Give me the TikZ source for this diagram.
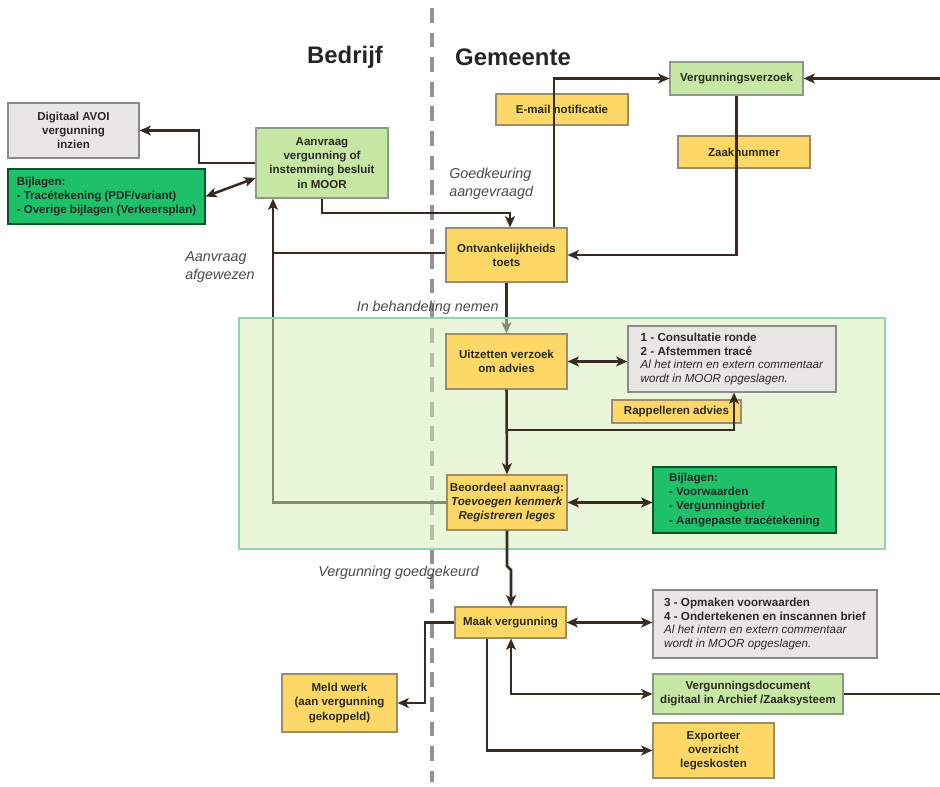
\documentclass[tikz,border=0pt]{standalone}
\usepackage{fontspec}
\setmainfont{Liberation Sans}
\usetikzlibrary{arrows.meta,calc}
\definecolor{yfill}{HTML}{FDD867}
\definecolor{ybdr}{HTML}{9C8C6A}
\definecolor{lgfill}{HTML}{C6E8A4}
\definecolor{lgbdr}{HTML}{8C9C84}
\definecolor{gfill}{HTML}{E8E7E6}
\definecolor{gbdr}{HTML}{8A8A8A}
\definecolor{dgin}{HTML}{1EC16A}
\definecolor{dgmid}{HTML}{129E4E}
\definecolor{dgout}{HTML}{0A6A32}
\definecolor{lin}{HTML}{3A2B22}
\definecolor{txt}{HTML}{2A2A22}
\definecolor{lbl}{HTML}{4A4A4A}
\definecolor{regfill}{HTML}{D3EDB5}
\definecolor{regbdr}{HTML}{8ED9A6}
\pgfdeclareradialshading{gsh}{\pgfpoint{0bp}{0bp}}{color(0bp)=(dgin); color(32bp)=(dgin); color(46bp)=(dgmid); color(52bp)=(dgout); color(75bp)=(dgout)}
\pgfdeclarelayer{bg}
\pgfdeclarelayer{mid}
\pgfsetlayers{bg,mid,main}
\tikzset{
  sz/.style 2 args={minimum width={#1*0.025cm}, minimum height={#2*0.025cm}},
  box/.style={rectangle, line width=0.8pt, inner sep=1pt, align=center, text=txt,
    font=\bfseries\fontsize{8.2}{10}\selectfont},
  ybox/.style={box, fill=yfill, draw=ybdr},
  lgbox/.style={box, fill=lgfill, draw=lgbdr},
  gbox/.style={box, fill=gfill, draw=gbdr, align=left, font=\fontsize{8.3}{9.8}\selectfont},
  dgbox/.style={box, shading=gsh, draw=dgout!80!black, align=left, text=black!85},
  conn/.style={draw=lin, line width=1.8pt},
  tip/.tip={Stealth[length=8pt,width=7pt,inset=2pt]},
  arr/.style={conn, -tip},
  dbl/.style={conn, tip-tip},
  lab/.style={text=lbl, font=\itshape\fontsize{10.2}{12.8}\selectfont, align=left, inner sep=0pt},
  title/.style={text=black!85, font=\bfseries\fontsize{17}{20}\selectfont, inner sep=0pt}
}
\begin{document}
\begin{tikzpicture}[x=0.025cm,y=-0.025cm]
\useasboundingbox (0,0) rectangle (940,787);
% titles
\node[title] (tb) at (345,57) {Bedrijf};
\node[title] (tg) at (513,57) {Gemeente};
% boxes
\node[gbox, sz={131}{55}, align=center, font=\bfseries\fontsize{8.2}{10}\selectfont] (digi) at (73.5,130.5) {Digitaal AVOI\\vergunning\\inzien};
\node[dgbox, sz={197}{55}] (bij1) at (106.5,196.5) {Bijlagen:\\- Trac\'etekening (PDF/variant)\\- Overige bijlagen (Verkeersplan)};
\node[lgbox, sz={132}{70}] (aanv) at (322,163) {Aanvraag\\vergunning of\\instemming besluit\\in MOOR};
\node[ybox, sz={121}{54}] (ontv) at (506.5,255) {Ontvankelijkheids\\toets};
\node[ybox, sz={132}{31}] (email) at (562,109.5) {E-mail notificatie};
\node[lgbox, sz={133}{33}] (vverz) at (736.5,78.5) {Vergunningsverzoek};
\node[ybox, sz={132}{32}] (zaak) at (744,152) {Zaaknummer};
\node[ybox, sz={121}{55}] (uitz) at (506.5,361.5) {Uitzetten verzoek\\om advies};
\node[gbox, sz={208}{66}] (gray1) at (732,359) {\textbf{1 - Consultatie ronde}\\\textbf{2 - Afstemmen trac\'e}\\\textit{Al het intern en extern commentaar}\\\textit{wordt in MOOR opgeslagen.}};
\node[ybox, sz={129}{23}] (rapp) at (676.5,411.5) {Rappelleren advies};
\node[ybox, sz={120}{55}] (beoo) at (507,502.5) {Beoordeel aanvraag:\\\textit{Toevoegen kenmerk}\\\textit{Registreren leges}};
\node[dgbox, sz={183}{66}] (bij2) at (744.5,500) {Bijlagen:\\- Voorwaarden\\- Vergunningbrief\\- Aangepaste trac\'etekening};
\node[ybox, sz={111}{31}] (maak) at (510.5,622.5) {Maak vergunning};
\node[ybox, sz={115}{58}] (meld) at (339.5,703) {Meld werk\\(aan vergunning\\gekoppeld)};
\node[gbox, sz={224}{68}] (gray2) at (765,624) {\textbf{3 - Opmaken voorwaarden}\\\textbf{4 - Ondertekenen en inscannen brief}\\\textit{Al het intern en extern commentaar}\\\textit{wordt in MOOR opgeslagen.}};
\node[lgbox, sz={190}{40}] (vdoc) at (748,694) {Vergunningsdocument\\digitaal in Archief /Zaaksysteem};
\node[ybox, sz={121}{55}] (expo) at (713.5,750.5) {Exporteer\\overzicht\\legeskosten};
% labels
\node[lab, anchor=west] (l1) at (449,184) {Goedkeuring\\aangevraagd};
\node[lab, anchor=west] (l2) at (185,267) {Aanvraag\\afgewezen};
\node[lab, anchor=east] (l3) at (499,308) {In behandeling nemen};
\node[lab, anchor=west] (l4) at (318,573) {Vergunning goedgekeurd};
\coordinate (rin) at (940,78.5);
\coordinate (rout) at (940,694);
% background layer: dashed divider and lines under the region
\begin{pgfonlayer}{bg}
\coordinate (dtop) at (432,8);
\coordinate (dbot) at (432,782);
\draw[gray!85, line width=2.6pt, dash pattern=on 10.5pt off 7pt] (dtop) -- (dbot);
\draw[arr] (beoo.west) -| (aanv.south -| 273,0);
\draw[conn] (ontv.west |- 0,253) -- (273,253);
\draw[arr] (ontv.south) -- (uitz.north);
\end{pgfonlayer}
\begin{pgfonlayer}{mid}
\fill[regfill, fill opacity=0.5] (239,318) rectangle (885,549);
\draw[regbdr, line width=0.8pt] (239,318) rectangle (885,549);
\end{pgfonlayer}
% connectors
\draw[arr] (aanv.west |- 0,163) -- (199,163) |- (digi.east);
\draw[dbl] (bij1.east) -- (aanv.west |- 0,178);
\draw[arr] (aanv.south) |- (510,213) -- (ontv.north -| 510,0);
\draw[arr] (ontv.north -| 554,0) |- (vverz.west);
\draw[arr] (rin) -- (vverz.east);
\draw[arr] (vverz.south) |- (ontv.east);
\draw[dbl] (uitz.east) -- (gray1.west |- uitz.east);
\draw[arr] (uitz.south) -- (beoo.north);
\draw[arr] (uitz.south |- 0,430) -| (gray1.south -| 734,0);
\draw[dbl] (beoo.east) -- (bij2.west |- beoo.east);
\draw[arr] (beoo.south) -- (507,566) -- (511,570) -- (maak.north -| 511,0);
\draw[arr] (maak.west) -- (425,622.5) |- (meld.east);
\draw[dbl] (maak.east) -- (gray2.west |- maak.east);
\draw[dbl] (maak.south -| 511,0) |- (vdoc.west);
\draw[conn] (vdoc.east) -- (rout);
\draw[arr] (maak.south -| 487,0) |- (expo.west);
\end{tikzpicture}
\end{document}
